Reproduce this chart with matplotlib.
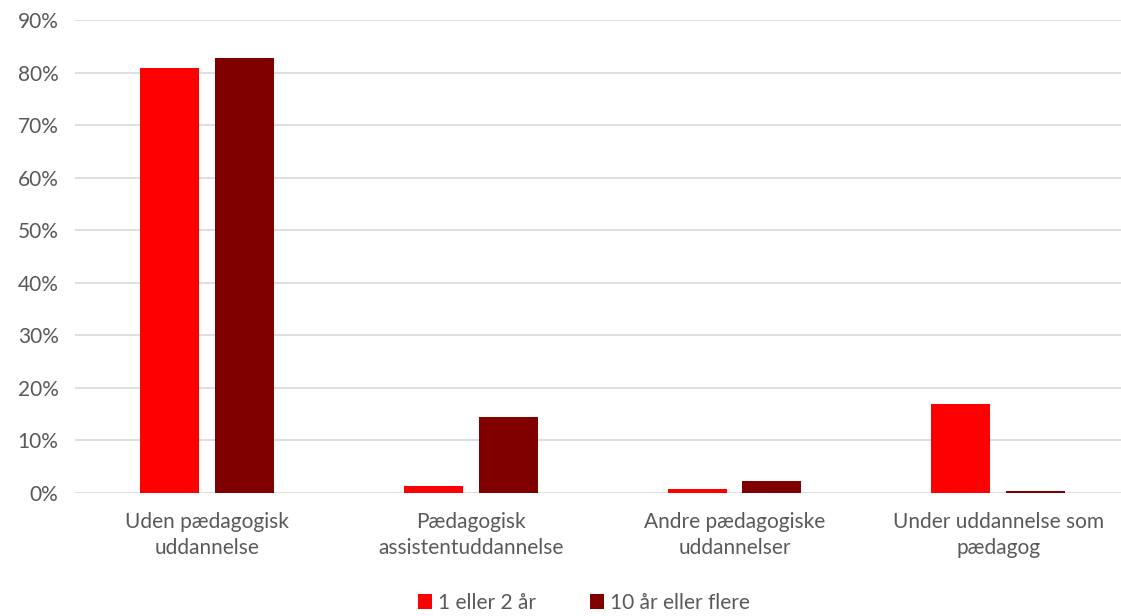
import matplotlib.pyplot as plt
import numpy as np

categories = ['Uden pædagogisk\nuddannelse', 'Pædagogisk\nassistentuddannelse',
              'Andre pædagogiske\nuddannelser', 'Under uddannelse som\npædagog']
series_names = ['1 eller 2 år', '10 år eller flere']
short_tenure = [80.9, 1.3, 0.7, 16.9]
long_tenure = [82.7, 14.5, 2.2, 0.45]
y_ticks = [0, 10, 20, 30, 40, 50, 60, 70, 80, 90]

plt.rcParams['font.family'] = ['Lato', 'DejaVu Sans']
text_color = '#595959'

fig = plt.figure(figsize=(11.21, 6.16), dpi=100)
ax = fig.add_axes([0.0671, 0.1997, 0.941, 0.7678])

x = np.arange(len(categories))
width = 0.2237
offset = 0.142
ax.bar(x - offset, short_tenure, width, color='#ff0000', label=series_names[0], zorder=3)
ax.bar(x + offset, long_tenure, width, color='#800000', label=series_names[1], zorder=3)

ax.set_xlim(-0.5, len(categories) - 0.5)
ax.set_ylim(0, 90)
ax.set_yticks(y_ticks)
ax.set_yticklabels([f'{v}%' for v in y_ticks])
ax.set_xticks(x)
ax.set_xticklabels(categories, linespacing=1.35)
ax.grid(axis='y', color='#d9d9d9', linewidth=1.2, zorder=0)
for s in ax.spines.values():
    s.set_visible(False)
ax.tick_params(axis='both', length=0, colors=text_color, labelsize=15)
ax.tick_params(axis='x', pad=14)
ax.tick_params(axis='y', pad=12)

ax.legend(loc='center', bbox_to_anchor=(0.482, -0.232), ncol=2, frameon=False,
          fontsize=15, labelcolor=text_color, handlelength=0.7, handleheight=0.7,
          handletextpad=0.25, columnspacing=2.6)

fig.savefig('out.png', dpi=100)
